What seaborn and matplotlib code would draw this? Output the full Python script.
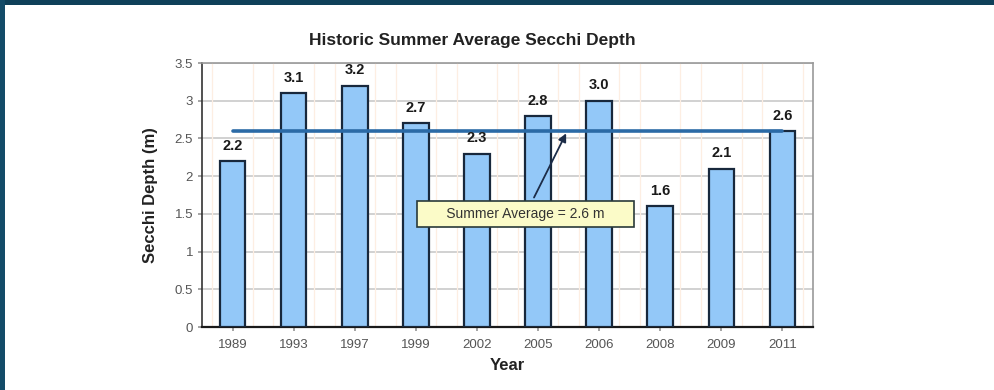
import matplotlib
matplotlib.use("Agg")
import matplotlib.pyplot as plt
from matplotlib.patches import Rectangle
import seaborn as sns
import pandas as pd

# Summer Secchi depth survey results
years = ["1989", "1993", "1997", "1999", "2002", "2005", "2006", "2008", "2009", "2011"]
depths = [2.2, 3.1, 3.2, 2.7, 2.3, 2.8, 3.0, 1.6, 2.1, 2.6]
depth_labels = ["2.2", "3.1", "3.2", "2.7", "2.3", "2.8", "3.0", "1.6", "2.1", "2.6"]
summer_average = 2.6
y_ticks = [0, 0.5, 1, 1.5, 2, 2.5, 3, 3.5]
y_tick_labels = ["0", "0.5", "1", "1.5", "2", "2.5", "3", "3.5"]

df = pd.DataFrame({"Year": years, "Depth": depths})

sns.set_theme(style="white")
plt.rcParams["font.family"] = ["Liberation Sans", "DejaVu Sans"]

fig = plt.figure(figsize=(9.95, 3.9), dpi=100)
fig.patch.set_facecolor("white")

# dark slide frame along the top and left edges
fig.patches.append(Rectangle((0, 1 - 5 / 390), 1, 5 / 390, transform=fig.transFigure,
                             facecolor="#0f4059", edgecolor="none", zorder=0))
fig.patches.append(Rectangle((0, 0), 5 / 995, 1, transform=fig.transFigure,
                             facecolor="#134b68", edgecolor="none", zorder=0))

ax = fig.add_axes([202 / 995, 63 / 390, 611 / 995, 264 / 390])

sns.barplot(data=df, x="Year", y="Depth", ax=ax, color="#93c8f8",
            width=0.42, edgecolor="#18283c", linewidth=1.6, saturation=1, zorder=3)

ax.set_ylim(0, 3.5)
ax.set_xlim(-0.5, len(years) - 0.5)
ax.set_yticks(y_ticks)
ax.set_yticklabels(y_tick_labels)

# grid: light grey horizontal lines, faint peach verticals around the bars
for yv in y_ticks[1:]:
    ax.axhline(yv, color="#c9c9c9", lw=1.2, zorder=1)
for i in range(len(years)):
    for dx in (-0.33, 0.33):
        ax.axvline(i + dx, color="#fdeee2", lw=0.9, zorder=1)

for side in ("top", "right"):
    ax.spines[side].set_color("#9a9a9a")
    ax.spines[side].set_linewidth(1.2)
ax.spines["left"].set_color("#333333")
ax.spines["left"].set_linewidth(1.2)
ax.spines["bottom"].set_color("#1a1a1a")
ax.spines["bottom"].set_linewidth(1.6)

ax.tick_params(axis="both", which="both", labelsize=9.5, labelcolor="#555555",
               color="#999999", length=3, direction="out", bottom=True, left=True)
ax.tick_params(axis="x", pad=6)

# value labels above each bar
for i, (v, lab) in enumerate(zip(depths, depth_labels)):
    ax.annotate(lab, xy=(i, v), xytext=(0, 11), textcoords="offset points",
                ha="center", va="center", fontsize=10.5, fontweight="bold",
                color="#1a1a1a", zorder=5)

# summer average line across the record
ax.plot([0, len(years) - 1], [summer_average, summer_average],
        color="#2b6aa6", lw=2.6, zorder=4)

ax.annotate("      Summer Average = 2.6 m      ", xy=(5.48, summer_average),
            xytext=(4.8, 1.5), textcoords="data", ha="center", va="center",
            fontsize=10, color="#333333", zorder=6,
            bbox=dict(boxstyle="square,pad=0.45", facecolor="#fbfbc8",
                      edgecolor="#2a3a3a", linewidth=1.2),
            arrowprops=dict(arrowstyle="-|>", color="#1c2c48", lw=1.3,
                            mutation_scale=12))

ax.set_xlabel("Year", fontsize=12, fontweight="bold", color="#222222", labelpad=5)
ax.set_ylabel("Secchi Depth (m)", fontsize=12, fontweight="bold", color="#222222",
              labelpad=12)

fig.text(472 / 995, 1 - 41 / 390, "Historic Summer Average Secchi Depth",
         ha="center", va="center", fontsize=12.5, fontweight="bold", color="#222222")

fig.savefig("out.png", dpi=100, facecolor="white")
